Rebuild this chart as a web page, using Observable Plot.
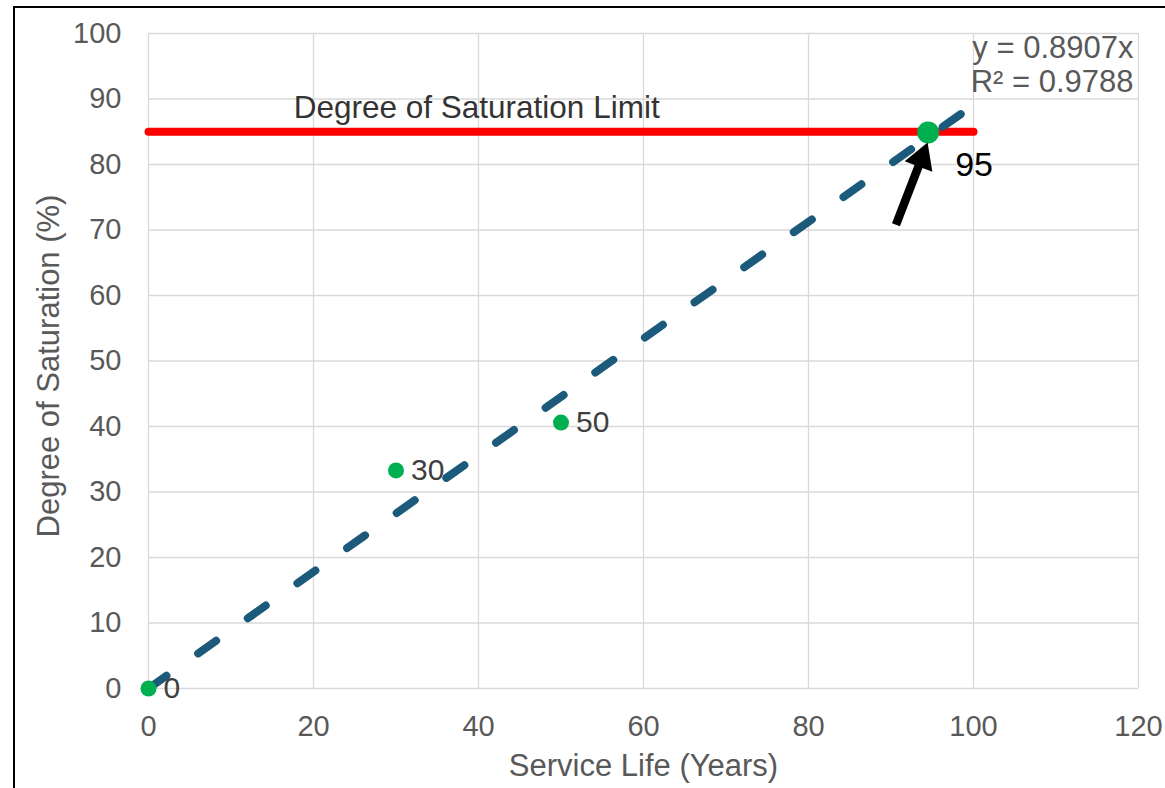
<!DOCTYPE html>
<html><head><meta charset="utf-8">
<script src="https://cdn.jsdelivr.net/npm/d3@7"></script>
<script src="https://cdn.jsdelivr.net/npm/@observablehq/plot@0.6"></script>
<style>
body{margin:0;background:#fff;}
#wrap{position:relative;width:1165px;height:788px;overflow:hidden;background:#fff;}
#wrap svg{position:absolute;left:0;top:0;}
#border{position:absolute;left:13px;top:6px;width:1300px;height:900px;border:2.5px solid #000;box-sizing:border-box;pointer-events:none;}
</style></head><body><div id="wrap"></div>
<script>
// data
const serviceLife = [0, 30, 50, 94.5];
const saturation = [0, 33.3, 40.6, 84.9];
const pointLabels = ["0", "30", "50", "95"];
const xTicks = [0, 20, 40, 60, 80, 100, 120];
const yTicks = [0, 10, 20, 30, 40, 50, 60, 70, 80, 90, 100];
const trendSlope = 0.8907;
const trendRange = [0, 99];
const limitValue = 85;
const limitRange = [0, 100];
const limitLabel = ["Degree of Saturation Limit"];
const limitLabelPos = [17.6, 88.6];
const equationText = ["y = 0.8907x\nR² = 0.9788"];
const arrowTail = [90.6, 70.8];
const arrowHead = [93.7, 80.9];
const xTitle = ["Service Life (Years)"];
const yTitle = ["Degree of Saturation (%)"];

const points = serviceLife.map((x, i) => ({x, y: saturation[i], label: pointLabels[i]}));
const trend = trendRange.map(x => ({x, y: trendSlope * x}));
const limit = limitRange.map(x => ({x, y: limitValue}));
const arrow = [{x1: arrowTail[0], y1: arrowTail[1], x2: arrowHead[0], y2: arrowHead[1]}];

const font = "Liberation Sans, Arial, Helvetica, sans-serif";
const grey = "#595959";

const chart = Plot.plot({
  width: 1165,
  height: 788,
  marginLeft: 148,
  marginRight: 27,
  marginTop: 33,
  marginBottom: 100,
  style: {fontFamily: font, fontSize: "29px", color: grey, background: "transparent"},
  x: {domain: [0, 120], ticks: xTicks},
  y: {domain: [0, 100], ticks: yTicks},
  marks: [
    Plot.gridX(xTicks, {stroke: "#d9d9d9", strokeOpacity: 1, strokeWidth: 1.3}),
    Plot.gridY(yTicks, {stroke: "#d9d9d9", strokeOpacity: 1, strokeWidth: 1.3}),
    Plot.axisX(xTicks, {tickSize: 0, tickPadding: 27, label: null, fontSize: 29, fill: grey}),
    Plot.axisY(yTicks, {tickSize: 0, tickPadding: 27, label: null, fontSize: 29, fill: grey}),
    Plot.text(xTitle, {frameAnchor: "bottom", dy: 78, textAnchor: "middle", lineAnchor: "middle", fontSize: 31, fill: grey}),
    Plot.text(yTitle, {frameAnchor: "left", dx: -99, dy: 5, rotate: -90, textAnchor: "middle", lineAnchor: "middle", fontSize: 31, fill: grey}),
    Plot.line(limit, {x: "x", y: "y", stroke: "#ff0000", strokeWidth: 8, strokeLinecap: "round"}),
    Plot.text(limitLabel, {x: () => limitLabelPos[0], y: () => limitLabelPos[1], textAnchor: "start", lineAnchor: "middle", fontSize: 31.5, fill: "#333333"}),
    Plot.line(trend, {x: "x", y: "y", stroke: "#1b5a7a", strokeWidth: 8, strokeLinecap: "round", strokeDasharray: "22,38.8"}),
    Plot.dot(points.slice(0, 3), {x: "x", y: "y", r: 8, fill: "#00b050"}),
    Plot.dot(points.slice(3), {x: "x", y: "y", r: 11, fill: "#00b050"}),
    Plot.text(points.slice(0, 3), {x: "x", y: "y", text: "label", dx: 15, textAnchor: "start", lineAnchor: "middle", fontSize: 30, fill: "#404040"}),
    Plot.text(points.slice(3), {x: "x", y: "y", text: "label", dx: 27, dy: 33, textAnchor: "start", lineAnchor: "middle", fontSize: 34, fill: "#000000"}),
    Plot.link(arrow, {x1: "x1", y1: "y1", x2: "x2", y2: "y2", stroke: "#000", strokeWidth: 8.5}),
    Plot.dot(arrow, {x: "x2", y: "y2", symbol: "triangle", r: 11, fill: "#000", stroke: "none", rotate: 20.7}),
    Plot.text(equationText, {frameAnchor: "top-right", dx: -5, dy: 1, textAnchor: "end", lineAnchor: "top", lineHeight: 1.08, fontSize: 31, fill: grey})
  ]
});
const wrap = document.getElementById("wrap");
wrap.appendChild(chart);
const b = document.createElement("div");
b.id = "border";
wrap.appendChild(b);
</script>
</body></html>
